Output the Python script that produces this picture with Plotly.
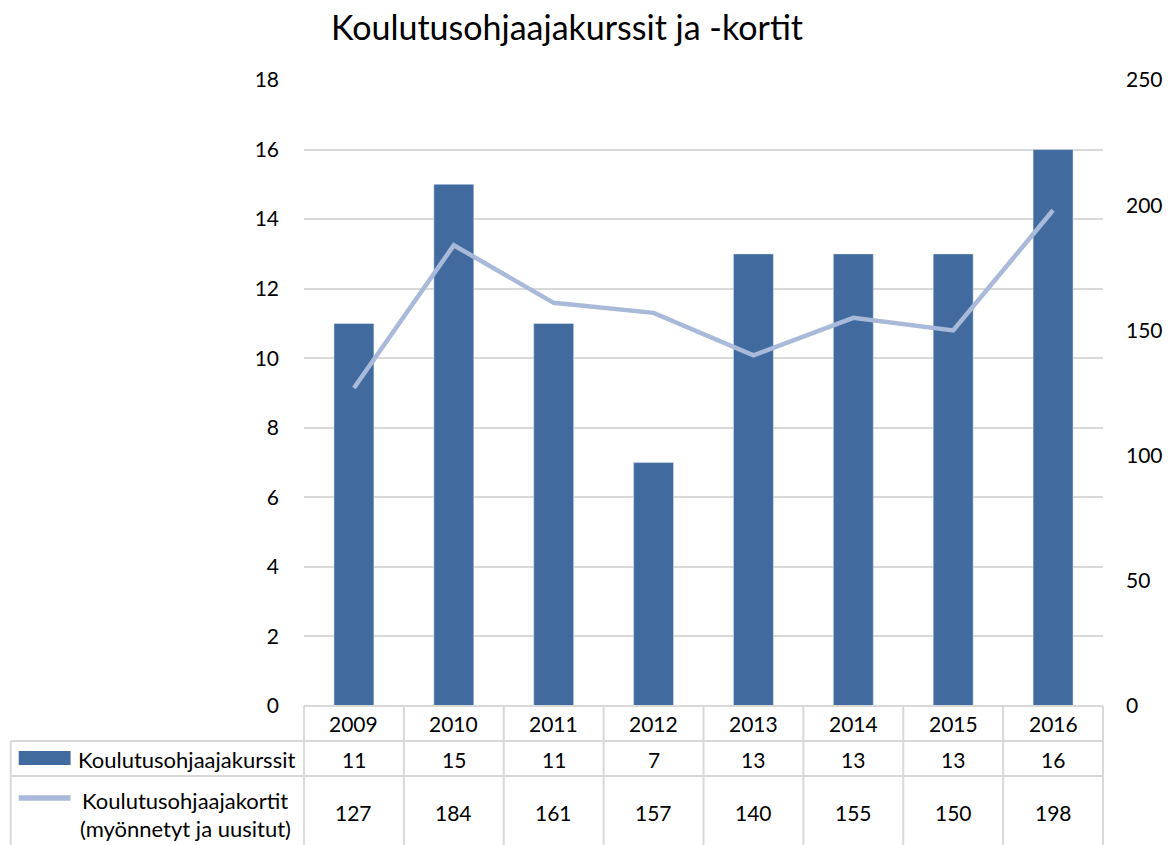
import plotly.graph_objects as go

years = ["2009", "2010", "2011", "2012", "2013", "2014", "2015", "2016"]
kurssit = [11, 15, 11, 7, 13, 13, 13, 16]
kortit = [127, 184, 161, 157, 140, 155, 150, 198]

name_bar = "Koulutusohjaajakurssit"
name_line_1 = "Koulutusohjaajakortit"
name_line_2 = "(myönnetyt ja uusitut)"
title = "Koulutusohjaajakurssit ja -kortit"

BAR = "#416b9e"
LINE = "#a9b9d9"
GRID = "#d9d9d9"
FONT = "Lato"

W, H = 1175, 845
ml, mr, mt, mb = 304, 70, 80, 139
pw, ph = W - ml - mr, H - mt - mb

def px2x(p):
    return (p - ml) / pw

def py2y(p):
    return (H - mb - p) / ph

fig = go.Figure()
fig.add_trace(go.Bar(x=years, y=kurssit, name=name_bar, marker_color=BAR,
                     width=0.4, yaxis="y"))
fig.add_trace(go.Scatter(x=years, y=kortit, name=name_line_1, mode="lines",
                         line=dict(color=LINE, width=4.5), yaxis="y2"))

shapes = []
ann = []
n = len(years)
line_style = dict(color=GRID, width=2)
bottom = py2y(H + 5)
# horizontal table lines
for yp in (741, 776):
    shapes.append(dict(type="line", xref="paper", yref="paper", x0=px2x(10), x1=1,
                       y0=py2y(yp), y1=py2y(yp), line=line_style))
shapes.append(dict(type="line", xref="paper", yref="paper", x0=0, x1=1,
                   y0=0, y1=0, line=line_style))
# vertical lines
for i in range(n + 1):
    shapes.append(dict(type="line", xref="paper", yref="paper", x0=i / n, x1=i / n,
                       y0=0, y1=bottom, line=line_style))
shapes.append(dict(type="line", xref="paper", yref="paper", x0=px2x(10), x1=px2x(10),
                   y0=py2y(741), y1=bottom, line=line_style))
# legend keys
shapes.append(dict(type="rect", xref="paper", yref="paper", x0=px2x(18), x1=px2x(70),
                   y0=py2y(765), y1=py2y(751), fillcolor=BAR, line=dict(width=0)))
shapes.append(dict(type="line", xref="paper", yref="paper", x0=px2x(18), x1=px2x(70),
                   y0=py2y(798), y1=py2y(798), line=dict(color=LINE, width=5.5)))

tf = dict(family=FONT, size=21, color="#000000")
lf = dict(family=FONT, size=22, color="#000000")
for i, yr in enumerate(years):
    cx = (i + 0.5) / n
    ann.append(dict(x=cx, xref="paper", y=py2y(723), yref="paper", text=yr,
                    showarrow=False, font=tf, xanchor="center", yanchor="middle"))
    ann.append(dict(x=cx, xref="paper", y=py2y(759), yref="paper", text=str(kurssit[i]),
                    showarrow=False, font=tf, xanchor="center", yanchor="middle"))
    ann.append(dict(x=cx, xref="paper", y=py2y(812), yref="paper", text=str(kortit[i]),
                    showarrow=False, font=tf, xanchor="center", yanchor="middle"))
ann.append(dict(x=px2x(297), xref="paper", y=py2y(759), yref="paper", text=name_bar,
                showarrow=False, font=lf, xanchor="right", yanchor="middle"))
ann.append(dict(x=px2x(185), xref="paper", y=py2y(800), yref="paper", text=name_line_1,
                showarrow=False, font=lf, xanchor="center", yanchor="middle"))
ann.append(dict(x=px2x(185), xref="paper", y=py2y(828), yref="paper", text=name_line_2,
                showarrow=False, font=lf, xanchor="center", yanchor="middle"))

fig.update_layout(
    width=W, height=H,
    margin=dict(l=ml, r=mr, t=mt, b=mb, pad=0),
    paper_bgcolor="white", plot_bgcolor="white",
    title=dict(text=title, x=567 / W, xanchor="center",
               y=1 - 28 / H, yanchor="middle",
               font=dict(family=FONT, size=34, color="#000000")),
    showlegend=False,
    font=dict(family=FONT, size=21, color="#000000"),
    xaxis=dict(type="category", range=[-0.5, n - 0.5], showticklabels=False,
               showgrid=False, zeroline=False, showline=False, ticks=""),
    yaxis=dict(range=[0, 18], dtick=2, showgrid=True, gridcolor=GRID, gridwidth=1.5,
               zeroline=False, showline=False, ticks="", ticklabelstandoff=24,
               tickfont=dict(family=FONT, size=21, color="#000000")),
    yaxis2=dict(range=[0, 250], dtick=50, overlaying="y", side="right", showgrid=False,
                zeroline=False, showline=False, ticks="", ticklabelstandoff=22,
                tickfont=dict(family=FONT, size=21, color="#000000")),
    shapes=shapes, annotations=ann,
)

fig.write_html("out.html", config={"displayModeBar": False},
               post_script="document.body.style.margin='0';")
